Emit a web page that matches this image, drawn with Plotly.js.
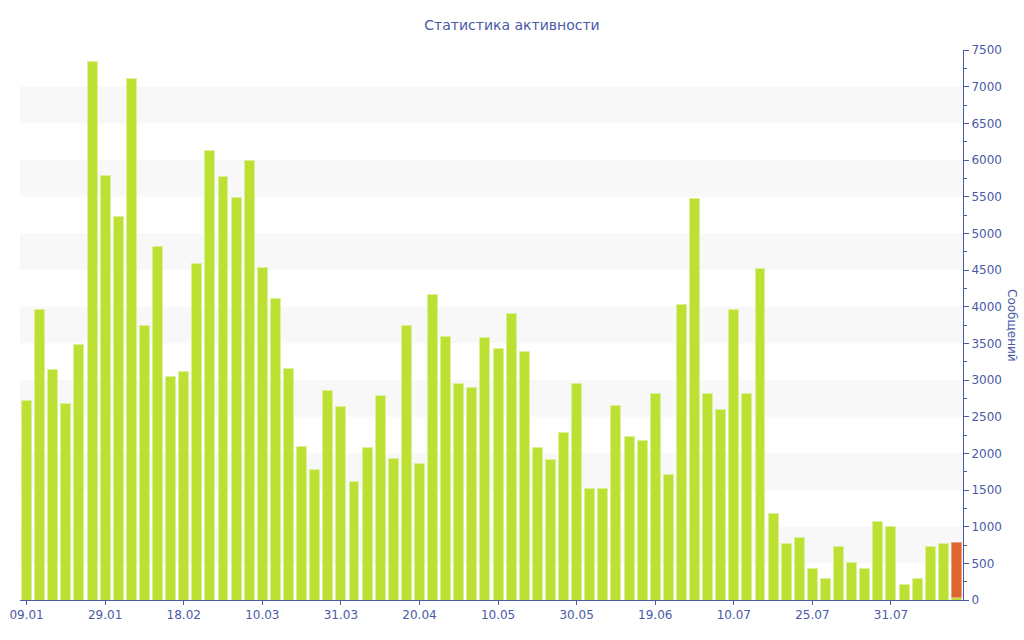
<!DOCTYPE html>
<html>
<head>
<meta charset="utf-8">
<script src="https://cdn.plot.ly/plotly-3.0.1.min.js"></script>
<style>
  html, body { margin: 0; padding: 0; background: #fff; }
  #chart { width: 1024px; height: 640px; }
</style>
</head>
<body>
<div id="chart"></div>
<script>
// messages per period
const messages = [
  2718, 3968, 3146, 2677, 3482, 7346, 5791, 5223, 7105, 3750,
  4818, 3045, 3114, 4591, 6123, 5773, 5495, 5991, 4532, 4109,
  3155, 2096, 1782, 2859, 2645, 1618, 2082, 2782, 1932, 3741,
  1859, 4168, 3600, 2955, 2900, 3586, 3423, 3909, 3382, 2073,
  1918, 2286, 2950, 1523, 1523, 2655, 2223, 2177, 2814, 1718,
  4032, 5477, 2818, 2600, 3964, 2818, 4523, 1186, 764, 859,
  423, 300, 723, 518, 423, 1064, 1009, 218, 300, 723,
  777, 30
];
// current (incomplete) period, stacked on the last bar
const currentIndex = 71;
const currentValue = 750;

const tickLabels = ['09.01', '29.01', '18.02', '10.03', '31.03', '20.04',
                    '10.05', '30.05', '19.06', '10.07', '25.07', '31.07'];
const tickStep = 6;

const blue = '#4a5aa6';
const green = '#bde132';
const orange = '#e0662f';

const xs = messages.map((_, i) => i);
const tickvals = tickLabels.map((_, i) => i * tickStep);

// alternating grey bands every other 500
const bands = [];
for (let y0 = 500; y0 < 7500; y0 += 1000) {
  bands.push({
    type: 'rect', xref: 'paper', yref: 'y', x0: 0, x1: 1, y0: y0, y1: y0 + 500,
    fillcolor: '#f8f8f8', line: { width: 0 }, layer: 'below'
  });
}

const traces = [
  {
    type: 'bar', x: xs, y: messages,
    marker: { color: green, line: { color: '#dcef9a', width: 1 } },
    hoverinfo: 'y'
  },
  {
    type: 'bar', x: [currentIndex], y: [currentValue],
    marker: { color: orange, line: { color: '#eba07c', width: 1 } },
    hoverinfo: 'y'
  }
];

const layout = {
  width: 1024, height: 640,
  margin: { l: 20, r: 61, t: 50, b: 40 },
  paper_bgcolor: '#fff', plot_bgcolor: '#fff',
  font: { family: 'DejaVu Sans, sans-serif', size: 12, color: blue },
  title: {
    text: 'Статистика активности', x: 0.5, xanchor: 'center',
    y: 0.961, yanchor: 'middle', font: { size: 14, color: blue }
  },
  showlegend: false,
  barmode: 'stack',
  bargap: 0.24,
  shapes: bands,
  xaxis: {
    range: [-0.5, 71.5],
    tickvals: tickvals, ticktext: tickLabels,
    showgrid: false, zeroline: false,
    showline: true, linecolor: blue, linewidth: 1,
    ticks: 'outside', ticklen: 4, tickcolor: blue,
    tickfont: { size: 12, color: blue }
  },
  yaxis: {
    side: 'right', range: [0, 7500], dtick: 500,
    showgrid: false, zeroline: false,
    showline: true, linecolor: blue, linewidth: 1,
    ticks: 'outside', ticklen: 5, tickcolor: blue,
    minor: { dtick: 250, ticks: 'outside', ticklen: 3, tickcolor: blue },
    tickfont: { size: 12, color: blue }
  },
  annotations: [{
    text: 'Сообщений', xref: 'paper', yref: 'paper', x: 1, y: 0.5,
    xanchor: 'center', yanchor: 'middle', xshift: 49, textangle: 90,
    showarrow: false, font: { size: 12, color: blue }
  }]
};

Plotly.newPlot('chart', traces, layout, { displayModeBar: false, staticPlot: true });
</script>
</body>
</html>
